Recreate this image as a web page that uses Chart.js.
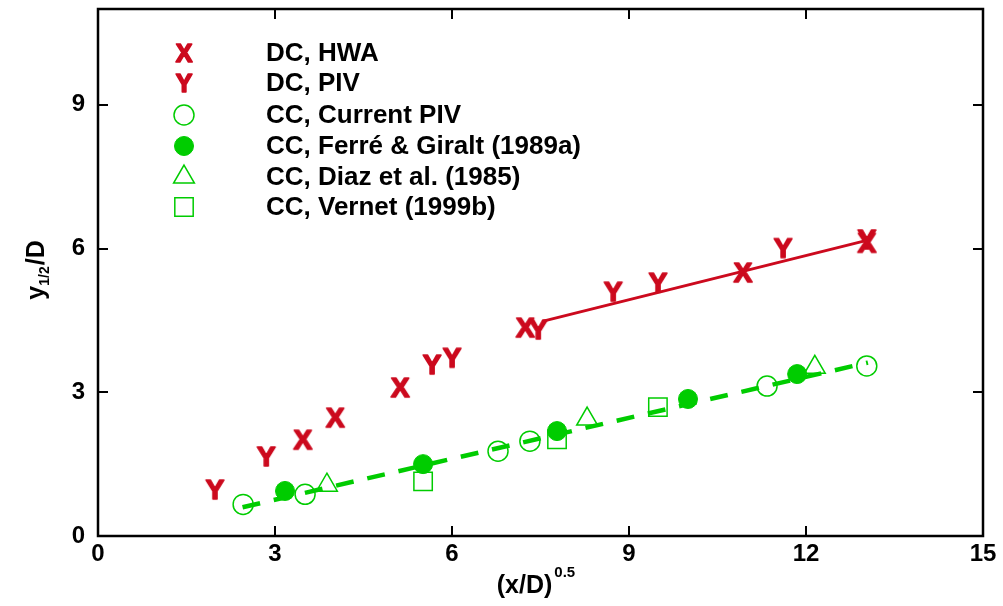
<!DOCTYPE html>
<html><head><meta charset="utf-8">
<script src="https://cdn.jsdelivr.net/npm/chart.js@4/dist/chart.umd.min.js"></script>
<style>html,body{margin:0;padding:0;background:#fff}#wrap{width:1003px;height:606px}</style>
</head><body><div id="wrap"><canvas id="c" width="1003" height="606"></canvas></div>
<script>
const xTicks=[0,3,6,9,12,15];
const yTicks=[0,3,6,9];
const dcHwaX=[3.47,4.02,5.12,7.24,10.93,13.03];
const dcHwaY=[2.02,2.48,3.11,4.36,5.51,6.13];
const dcPivX=[1.98,2.85,5.66,6.00,7.46,8.73,9.49,11.61,13.03];
const dcPivY=[0.98,1.67,3.59,3.73,4.32,5.11,5.30,6.02,6.20];
const ccCurX=[2.46,3.51,6.78,7.32,11.34,13.03];
const ccCurY=[0.66,0.87,1.77,1.98,3.13,3.55];
const ccFerreX=[3.17,5.51,7.78,10.00,11.85];
const ccFerreY=[0.94,1.50,2.19,2.86,3.38];
const ccDiazX=[3.88,8.29,12.15];
const ccDiazY=[1.06,2.44,3.52];
const ccVernetX=[5.51,7.78,9.49];
const ccVernetY=[1.14,2.02,2.69];
const fitDcX=[7.53,13.03], fitDcY=[4.48,6.17];
const fitCcX=[2.45,13.05], fitCcY=[0.60,3.62];
const labels=["DC, HWA","DC, PIV","CC, Current PIV","CC, Ferré & Giralt (1989a)","CC, Diaz et al. (1985)","CC, Vernet (1999b)"];

const RED='#cc0a1e', GREEN='#00cc00';
const FONT='"Liberation Sans", Arial, sans-serif';
function pts(xs,ys){return xs.map((x,i)=>({x:x,y:ys[i]}));}
function glyph(ch,color,size){const c=document.createElement('canvas');c.width=36;c.height=36;const g=c.getContext('2d');g.fillStyle=color;g.strokeStyle=color;g.lineWidth=1.6;g.lineJoin='round';g.font='bold '+size+'px '+FONT;g.textAlign='center';g.textBaseline='alphabetic';const by=18+size*0.36;g.fillText(ch,18,by);g.strokeText(ch,18,by);return c;}
const gX=glyph('X',RED,28), gY=glyph('Y',RED,28);
const lX=glyph('X',RED,25), lY=glyph('Y',RED,25);

const markerSets=[
 {label:labels[0],data:pts(dcHwaX,dcHwaY),pointStyle:gX,legendStyle:lX,pointRadius:15,borderColor:RED,backgroundColor:RED,pointBorderWidth:0},
 {label:labels[1],data:pts(dcPivX,dcPivY),pointStyle:gY,legendStyle:lY,pointRadius:15,borderColor:RED,backgroundColor:RED,pointBorderWidth:0},
 {label:labels[2],data:pts(ccCurX,ccCurY),pointStyle:'circle',pointRadius:10,borderColor:GREEN,backgroundColor:'rgba(0,0,0,0)',pointBorderWidth:1.5},
 {label:labels[3],data:pts(ccFerreX,ccFerreY),pointStyle:'circle',pointRadius:9.5,borderColor:GREEN,backgroundColor:GREEN,pointBorderWidth:1},
 {label:labels[4],data:pts(ccDiazX,ccDiazY),pointStyle:'triangle',pointRadius:12,borderColor:GREEN,backgroundColor:'rgba(0,0,0,0)',pointBorderWidth:1.5},
 {label:labels[5],data:pts(ccVernetX,ccVernetY),pointStyle:'rect',pointRadius:13,borderColor:GREEN,backgroundColor:'rgba(0,0,0,0)',pointBorderWidth:1.5}
];
markerSets.forEach(d=>{d.showLine=false;d.order=2;d.pointHoverRadius=d.pointRadius;});
const lineSets=[
 {label:'fitDC',data:pts(fitDcX,fitDcY),showLine:true,pointRadius:0,borderColor:RED,borderWidth:3,order:1},
 {label:'fitCC',data:pts(fitCcX,fitCcY),showLine:true,pointRadius:0,borderColor:GREEN,borderWidth:4.5,borderDash:[18,14],order:1}
];

const decor={id:'decor',afterDraw(chart){
 const ctx=chart.ctx, a=chart.chartArea, sx=chart.scales.x, sy=chart.scales.y;
 ctx.save();
 ctx.strokeStyle='#000';ctx.lineWidth=2;
 const L=10;
 xTicks.forEach(v=>{const p=Math.round(sx.getPixelForValue(v));
   ctx.beginPath();ctx.moveTo(p,a.bottom);ctx.lineTo(p,a.bottom-L);ctx.moveTo(p,a.top);ctx.lineTo(p,a.top+L);ctx.stroke();});
 yTicks.forEach(v=>{const p=Math.round(sy.getPixelForValue(v));
   ctx.beginPath();ctx.moveTo(a.left,p);ctx.lineTo(a.left+L,p);ctx.moveTo(a.right,p);ctx.lineTo(a.right-L,p);ctx.stroke();});
 ctx.lineWidth=2.5;ctx.strokeRect(a.left,a.top,a.right-a.left,a.bottom-a.top);
 // x title
 ctx.fillStyle='#000';ctx.textBaseline='alphabetic';ctx.textAlign='left';
 ctx.font='bold 25px '+FONT;
 const t1='(x/D)';const w1=ctx.measureText(t1).width;
 ctx.font='bold 15px '+FONT;const w2=ctx.measureText('0.5').width;
 const cx=536;
 let x0=cx-(w1+w2+2)/2;
 ctx.font='bold 25px '+FONT;ctx.fillText(t1,x0,593);
 ctx.font='bold 15px '+FONT;ctx.fillText('0.5',x0+w1+2,577);
 // y title
 ctx.save();ctx.translate(44,270);ctx.rotate(-Math.PI/2);
 ctx.font='bold 25px '+FONT;const a1=ctx.measureText('y').width;
 ctx.font='bold 14px '+FONT;const a2=ctx.measureText('1/2').width;
 ctx.font='bold 25px '+FONT;const a3=ctx.measureText('/D').width;
 let y0=-(a1+a2+a3+1)/2;
 ctx.font='bold 25px '+FONT;ctx.fillText('y',y0,0);
 ctx.font='bold 14px '+FONT;ctx.fillText('1/2',y0+a1,5);
 ctx.font='bold 25px '+FONT;ctx.fillText('/D',y0+a1+a2+1,0);
 ctx.restore();
 // legend
 const rows=[53,83,115,146,177,207];
 markerSets.forEach((d,i)=>{
   const y=rows[i];
   ctx.fillStyle=d.backgroundColor;ctx.strokeStyle=d.borderColor;ctx.lineWidth=d.pointBorderWidth;
   Chart.helpers.drawPoint(ctx,{pointStyle:d.legendStyle||d.pointStyle,radius:d.pointRadius,rotation:0,borderWidth:d.pointBorderWidth},184,y);
   ctx.fillStyle='#000';ctx.font='bold 26px '+FONT;ctx.textAlign='left';ctx.textBaseline='middle';
   ctx.fillText(d.label,266,y+1);
 });
 ctx.restore();
}};

const tickFont={family:'"Liberation Sans Narrow", "Liberation Sans", Arial, sans-serif',size:24,weight:'bold'};
new Chart(document.getElementById('c'),{
 type:'scatter',
 data:{datasets:[...lineSets,...markerSets]},
 options:{responsive:false,animation:false,devicePixelRatio:1,
  layout:{autoPadding:false,padding:{left:0,top:9,right:20,bottom:0}},
  plugins:{legend:{display:false},tooltip:{enabled:false}},
  events:[],
  scales:{
   x:{type:'linear',min:0,max:15,
      afterBuildTicks:s=>{s.ticks=xTicks.map(v=>({value:v}));},
      afterFit:s=>{s.height=70;s.paddingLeft=0;s.paddingRight=0;},
      grid:{display:false,drawTicks:false},border:{display:false},
      ticks:{font:tickFont,color:'#000',padding:4,maxRotation:0,autoSkip:false}},
   y:{type:'linear',min:0,max:11,
      afterBuildTicks:s=>{s.ticks=yTicks.map(v=>({value:v}));},
      afterFit:s=>{s.width=98;s.paddingTop=0;s.paddingBottom=0;},
      grid:{display:false,drawTicks:false},border:{display:false},
      ticks:{font:tickFont,color:'#000',padding:13,autoSkip:false}}
  }
 },
 plugins:[decor]
});
</script></body></html>
